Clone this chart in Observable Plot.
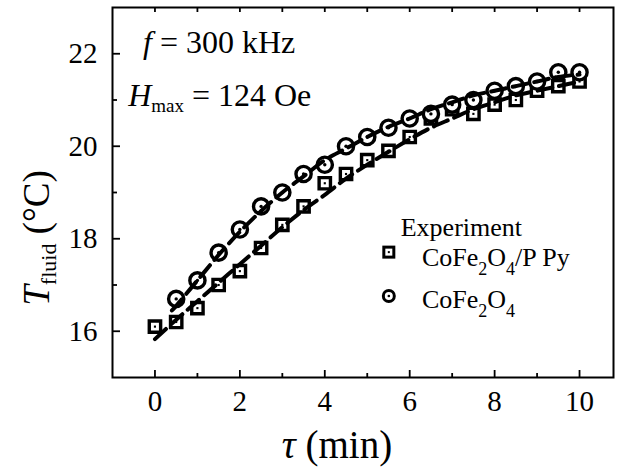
<!DOCTYPE html>
<html>
<head>
<meta charset="utf-8">
<script src="https://cdn.jsdelivr.net/npm/d3@7"></script>
<script src="https://cdn.jsdelivr.net/npm/@observablehq/plot@0.6"></script>
<style>
  html, body { margin: 0; padding: 0; background: white; }
  svg text { font-family: "Liberation Serif", "Times New Roman", serif; }
</style>
</head>
<body>
<div id="chart"></div>
<script>
// ---- data ----
const tauPpy = [0, 0.5, 1, 1.5, 2, 2.5, 3, 3.5, 4, 4.5, 5, 5.5, 6, 6.5, 7, 7.5, 8, 8.5, 9, 9.5, 10];
const tPpy   = [16.1, 16.2, 16.5, 17.0, 17.3, 17.8, 18.3, 18.7, 19.2, 19.4, 19.7, 19.9, 20.2, 20.6, 20.8, 20.7, 20.9, 21.0, 21.2, 21.3, 21.4];

const tauCfo = [0.5, 1, 1.5, 2, 2.5, 3, 3.5, 4, 4.5, 5, 5.5, 6, 6.5, 7, 7.5, 8, 8.5, 9, 9.5, 10];
const tCfo   = [16.7, 17.1, 17.7, 18.2, 18.7, 19.0, 19.4, 19.6, 20.0, 20.2, 20.4, 20.6, 20.7, 20.9, 21.0, 21.2, 21.3, 21.4, 21.6, 21.6];

// dashed fit curves
const fitTauPpy = [0, 0.5, 1, 1.5, 2, 2.5, 3, 3.5, 4, 4.5, 5, 5.5, 6, 6.5, 7, 7.5, 8, 8.5, 9, 9.5, 10];
const fitPpy    = [15.83, 16.25, 16.65, 17.05, 17.45, 17.85, 18.25, 18.62, 18.95, 19.3, 19.6, 19.88, 20.15, 20.4, 20.6, 20.8, 20.95, 21.1, 21.2, 21.3, 21.4];
const fitTauCfo = [0.4, 0.5, 1, 1.5, 2, 2.5, 3, 3.5, 4, 4.5, 5, 5.5, 6, 6.5, 7, 7.5, 8, 8.5, 9, 9.5, 10];
const fitCfo    = [16.45, 16.55, 17.1, 17.65, 18.15, 18.6, 19.0, 19.35, 19.7, 19.95, 20.2, 20.42, 20.6, 20.8, 20.95, 21.1, 21.2, 21.3, 21.4, 21.5, 21.55];

const xMajor = [0, 2, 4, 6, 8, 10];
const xMinor = [1, 3, 5, 7, 9];
const yMajor = [16, 18, 20, 22];
const yMinor = [17, 19, 21];

const ppyRows = tauPpy.map((t, i) => ({t, T: tPpy[i]}));
const cfoRows = tauCfo.map((t, i) => ({t, T: tCfo[i]}));
const fitPpyRows = fitTauPpy.map((t, i) => ({t, T: fitPpy[i]}));
const fitCfoRows = fitTauCfo.map((t, i) => ({t, T: fitCfo[i]}));

const FONT = '"Liberation Serif", "Times New Roman", serif';

const plot = Plot.plot({
  width: 621,
  height: 473,
  marginLeft: 112,
  marginRight: 8,
  marginTop: 7,
  marginBottom: 96,
  x: {domain: [-1, 10.8]},
  y: {domain: [15, 23]},
  style: {fontFamily: FONT, background: "white", color: "black", overflow: "visible"},
  marks: [
    // axes with inward ticks
    Plot.axisX(xMajor, {anchor: "bottom", tickSize: -7, tickPadding: 20, fontSize: 29, strokeWidth: 1.8, label: null}),
    Plot.axisX(xMinor, {anchor: "bottom", tickSize: -4, tickFormat: () => "", strokeWidth: 1.8, label: null}),
    Plot.axisX([...xMajor, ...xMinor], {anchor: "top", tickSize: -4, tickFormat: () => "", strokeWidth: 1.8, label: null}),
    Plot.axisY(yMajor, {anchor: "left", tickSize: -8, tickPadding: 23, fontSize: 29, strokeWidth: 1.8, label: null}),
    Plot.axisY(yMinor, {anchor: "left", tickSize: -5, tickFormat: () => "", strokeWidth: 1.8, label: null}),
    // markers
    Plot.dot(ppyRows, {x: "t", y: "T", symbol: "square", r: 6.4, stroke: "black", strokeWidth: 3.4, fill: "white"}),
    Plot.dot(ppyRows, {x: "t", y: "T", symbol: "square", r: 1.2, fill: "black", stroke: null}),
    Plot.dot(cfoRows, {x: "t", y: "T", symbol: "circle", r: 7.6, stroke: "black", strokeWidth: 3.4, fill: "white"}),
    Plot.dot(cfoRows, {x: "t", y: "T", symbol: "circle", r: 1.7, fill: "black", stroke: null}),
    // dashed fits drawn on top
    Plot.line(fitPpyRows, {x: "t", y: "T", stroke: "black", strokeWidth: 4, strokeDasharray: "15,7", curve: "catmull-rom"}),
    Plot.line(fitCfoRows, {x: "t", y: "T", stroke: "black", strokeWidth: 4, strokeDasharray: "15,7", curve: "catmull-rom"}),
    Plot.frame({stroke: "black", strokeWidth: 2})
  ]
});

document.getElementById("chart").appendChild(plot);

const svg = d3.select(plot);
const sx = plot.scale("x"), sy = plot.scale("y");

function addText(x, y, parts, size, extra) {
  const t = svg.append("text")
    .attr("x", x).attr("y", y)
    .attr("text-anchor", "start")
    .attr("font-family", FONT)
    .attr("font-size", size)
    .attr("fill", "black");
  if (extra) extra(t);
  parts.forEach(p => {
    const s = t.append("tspan").text(p.text);
    if (p.italic) s.attr("font-style", "italic");
    if (p.size) s.attr("font-size", p.size);
    if (p.dy) s.attr("dy", p.dy);
    if (p.dx) s.attr("dx", p.dx);
  });
  return t;
}

// axis titles
addText(0, 0, [
  {text: "T", italic: true},
  {text: "fluid", size: 22, dy: 7},
  {text: " (°C)", dy: -7}
], 37, t => t.attr("text-anchor", "middle").attr("transform", "translate(49,238) rotate(-90)"));

addText(337, 458, [
  {text: "τ", italic: true},
  {text: " (min)"}
], 39, t => t.attr("text-anchor", "middle"));

// annotations (positioned in data coordinates)
addText(sx.apply(-0.27), sy.apply(22.0), [
  {text: "f", italic: true},
  {text: " = 300 kHz"}
], 32);

addText(sx.apply(-0.62), sy.apply(20.87), [
  {text: "H", italic: true},
  {text: "max", size: 19, dy: 6},
  {text: " = 124 Oe", dy: -6}
], 32);

// legend
addText(sx.apply(5.8), sy.apply(18.05), [{text: "Experiment"}], 26);
svg.append("rect")
  .attr("x", sx.apply(5.52) - 5).attr("y", sy.apply(17.7) - 5)
  .attr("width", 10).attr("height", 10)
  .attr("fill", "white").attr("stroke", "black").attr("stroke-width", 3);
svg.append("rect")
  .attr("x", sx.apply(5.52) - 1).attr("y", sy.apply(17.7) - 1)
  .attr("width", 2).attr("height", 2).attr("fill", "black");
addText(sx.apply(6.3), sy.apply(17.4), [
  {text: "CoFe"},
  {text: "2", size: 18, dy: 9},
  {text: "O", dy: -9},
  {text: "4", size: 18, dy: 9},
  {text: "/P Py", dy: -9}
], 26);
svg.append("circle")
  .attr("cx", sx.apply(5.52)).attr("cy", sy.apply(16.75))
  .attr("r", 5.5).attr("fill", "white").attr("stroke", "black").attr("stroke-width", 3);
svg.append("circle")
  .attr("cx", sx.apply(5.52)).attr("cy", sy.apply(16.75))
  .attr("r", 1.3).attr("fill", "black");
addText(sx.apply(6.3), sy.apply(16.5), [
  {text: "CoFe"},
  {text: "2", size: 18, dy: 9},
  {text: "O", dy: -9},
  {text: "4", size: 18, dy: 9}
], 26);
</script>
</body>
</html>
